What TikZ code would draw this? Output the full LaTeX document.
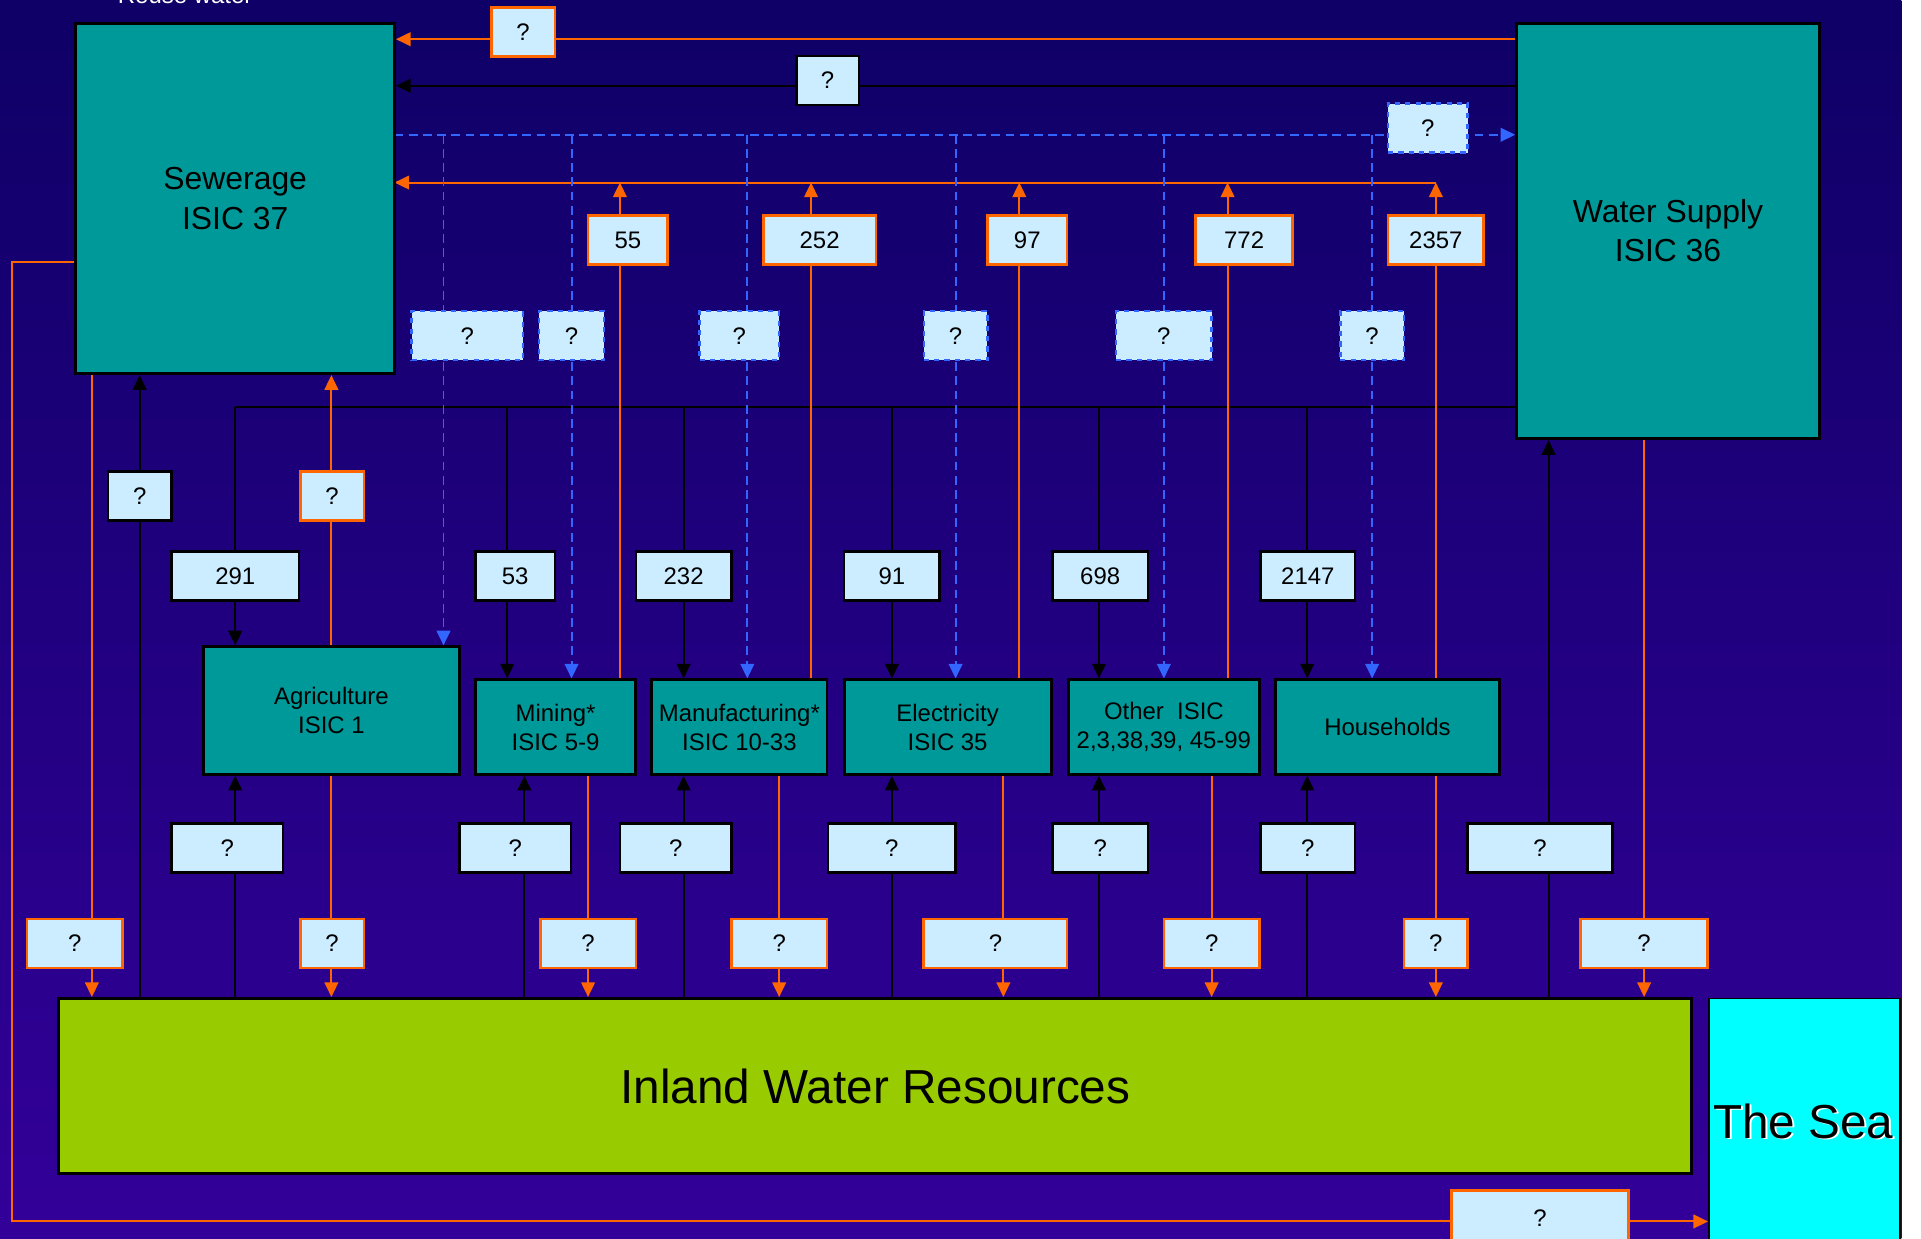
\documentclass[tikz,border=0pt]{standalone}
\usepackage{fontspec}
\setmainfont{Liberation Sans}
\usepackage{xcolor}
\usetikzlibrary{arrows.meta, backgrounds}
\definecolor{tealbox}{RGB}{0,153,153}
\definecolor{inlandgreen}{RGB}{153,204,0}
\definecolor{seacyan}{RGB}{0,255,255}
\definecolor{flow}{RGB}{255,102,0}
\definecolor{reuseblue}{RGB}{51,102,255}
\definecolor{lightq}{RGB}{204,236,255}
\definecolor{bgtop}{RGB}{14,0,102}
\definecolor{bgbottom}{RGB}{51,0,153}
\newcommand{\qfont}{\fontsize{13.9}{16.7}\selectfont}
\newcommand{\sectfont}{\fontsize{13.9}{17}\selectfont}
\newcommand{\bigboxfont}{\fontsize{18.5}{22.8}\selectfont}
\newcommand{\resfont}{\fontsize{27.7}{33}\selectfont}

\begin{document}
\begin{tikzpicture}[
    x=0.25mm, y=-0.25mm,
    >={Triangle[length=3mm, width=2.8mm]},
    every node/.style={font=\qfont, inner sep=0pt},
    bigbox/.style={draw=black, line width=0.6mm, fill=tealbox, align=center, font=\bigboxfont},
    sector/.style={draw=black, line width=0.6mm, fill=tealbox, align=center, minimum height=19.25mm, font=\sectfont},
    qblack/.style={draw=black, line width=0.5mm, fill=lightq, minimum height=10mm},
    qorange/.style={draw=flow, line width=0.55mm, fill=lightq, minimum height=10mm},
    qblue/.style={draw=reuseblue, dashed, line width=0.5mm, fill=lightq, minimum height=10mm},
    abstr/.style={black, line width=0.4mm},
    dischg/.style={flow, line width=0.4mm},
    reusel/.style={reuseblue, line width=0.4mm, dash pattern=on 1.8mm off 1.1mm},
]
\useasboundingbox (0,0) rectangle (1568,1011);
% backdrop
\begin{scope}[on background layer]
\fill[white] (0,0) rectangle (1568,1011);
\shade[top color=bgtop, bottom color=bgbottom] (0,0) rectangle (1552,1011);
\end{scope}
\node[text=white, anchor=base west] (reusetxt) at (96,3) {Reuse water};

% sewerage, water supply, inland water and the sea
\node[bigbox, minimum width=65mm, minimum height=71.5mm] (sew) at (192,162) {Sewerage\\ISIC 37};
\node[bigbox, minimum width=61.75mm, minimum height=84.75mm] (ws) at (1361.5,188.5) {Water Supply\\ISIC 36};
\node[draw=black, line width=0.6mm, fill=inlandgreen, minimum width=333.25mm, minimum height=35.75mm, font=\resfont] (inland) at (714.5,886.5) {Inland Water Resources};
\node[draw=black, line width=0.4mm, fill=seacyan, minimum width=39mm, minimum height=51.25mm] (sea) at (1473,917.5) {};
\node[font=\resfont, text=white] (seashade) at (1473.6,916.4) {The Sea};
\node[font=\resfont] (seatxt) at (1472,915) {The Sea};

% the using industries
\node[sector, minimum width=52.25mm, minimum height=26mm] (agri) at (270.5,580) {Agriculture\\ISIC 1};
\node[sector, minimum width=32.75mm] (mine) at (453.5,593.5) {Mining*\\ISIC 5-9};
\node[sector, minimum width=35.75mm] (manu) at (603.5,593.5) {Manufacturing*\\ISIC 10-33};
\node[sector, minimum width=42.25mm] (elec) at (773.5,593.5) {Electricity\\ISIC 35};
\node[sector, minimum width=39mm] (other) at (950,593.5) {Other\ \ ISIC\\2,3,38,39, 45-99};
\node[sector, minimum width=45.75mm] (hh) at (1132.5,593.5) {Households};

% flows between the sewerage and the water supply
\node[qorange, minimum width=13mm] (qtop) at (427,26) {?};
\node[qblack, minimum width=12.75mm] (qmid) at (675.5,65.5) {?};
\node[qblue, minimum width=16.25mm] (qreuse) at (1165.5,104.5) {?};

% returns to the sewerage
\node[qorange, minimum width=16.25mm] (r55) at (512.5,196) {55};
\node[qorange, minimum width=23mm] (r252) at (669,196) {252};
\node[qorange, minimum width=16.25mm] (r97) at (838.5,196) {97};
\node[qorange, minimum width=19.75mm] (r772) at (1015.5,196) {772};
\node[qorange, minimum width=19.5mm] (r2357) at (1172,196) {2357};

% reused water
\node[qblue, minimum width=22.75mm] (uagri) at (381.5,274) {?};
\node[qblue, minimum width=13.25mm] (umine) at (466.5,274) {?};
\node[qblue, minimum width=16.25mm] (umanu) at (603.5,274) {?};
\node[qblue, minimum width=13mm] (uelec) at (780,274) {?};
\node[qblue, minimum width=19.5mm] (uother) at (950,274) {?};
\node[qblue, minimum width=13mm] (uhh) at (1120,274) {?};

% into and out of the sewerage
\node[qblack, minimum width=13mm] (asew) at (114,405) {?};
\node[qorange, minimum width=13mm] (ragri) at (271,405) {?};

% supplied water
\node[qblack, minimum width=26mm] (s291) at (192,470) {291};
\node[qblack, minimum width=16.25mm] (s53) at (420.5,470) {53};
\node[qblack, minimum width=19.5mm] (s232) at (558,470) {232};
\node[qblack, minimum width=19.5mm] (s91) at (728,470) {91};
\node[qblack, minimum width=19.5mm] (s698) at (898,470) {698};
\node[qblack, minimum width=19.25mm] (s2147) at (1067.5,470) {2147};

% abstraction from inland water
\node[qblack, minimum width=22.75mm] (aagri) at (185.5,692) {?};
\node[qblack, minimum width=22.75mm] (amine) at (420.5,692) {?};
\node[qblack, minimum width=22.75mm] (amanu) at (551.5,692) {?};
\node[qblack, minimum width=26mm] (aelec) at (728,692) {?};
\node[qblack, minimum width=19.5mm] (aother) at (898,692) {?};
\node[qblack, minimum width=19.25mm] (ahh) at (1067.5,692) {?};
\node[qblack, minimum width=29.5mm] (aws) at (1257,692) {?};

% discharge to inland water and the sea
\node[qorange, minimum width=19.5mm] (dsew) at (61,770) {?};
\node[qorange, minimum width=13mm] (dagri) at (271,770) {?};
\node[qorange, minimum width=19.5mm] (dmine) at (480,770) {?};
\node[qorange, minimum width=19.5mm] (dmanu) at (636,770) {?};
\node[qorange, minimum width=29.25mm] (delec) at (812.5,770) {?};
\node[qorange, minimum width=19.5mm] (dother) at (989,770) {?};
\node[qorange, minimum width=13mm] (dhh) at (1172,770) {?};
\node[qorange, minimum width=26mm] (dws) at (1342,770) {?};
\node[qorange, minimum width=36mm, minimum height=11mm] (dsea) at (1257,994) {?};

\begin{scope}[on background layer]
\coordinate (dist) at (192,332);
\coordinate (reu) at (322,110);
\coordinate (ret) at (322,149);
% top lines
\draw[dischg, ->] (ws.west |- 0,32) -- (sew.east |- 0,32);
\draw[abstr, ->] (ws.west |- 0,70) -- (sew.east |- 0,70);
\draw[reusel, ->] (reu) -- (ws.west |- reu);
\draw[dischg, ->] (r2357 |- ret) -- (ret);
\draw[abstr] (ws.west |- dist) -- (dist);
% sewerage
\draw[abstr, ->] (inland.north -| asew) -- (asew |- sew.south);
\draw[dischg, ->] (sew.south -| 75,0) -- (inland.north -| 75,0);
\draw[dischg, ->] (sew.west |- 0,214) -| (10,997) -- (sea.west |- 0,997);
% water supply
\draw[abstr, ->] (inland.north -| 1264,0) -- (ws.south -| 1264,0);
\draw[dischg, ->] (ws.south -| dws) -- (dws |- inland.north);
% agriculture
\draw[abstr, ->] (dist) -- (agri.north -| dist);
\draw[reusel, ->] (reu -| 362,0) -- (agri.north -| 362,0);
\draw[dischg, ->] (agri.north) -- (agri.north |- sew.south);
\draw[abstr, ->] (inland.north -| dist) -- (agri.south -| dist);
\draw[dischg, ->] (agri.south) -- (agri.south |- inland.north);
% mining
\draw[abstr, ->] (dist -| 414,0) -- (mine.north -| 414,0);
\draw[reusel, ->] (reu -| umine) -- (umine |- mine.north);
\draw[dischg, ->] (mine.north -| 506,0) -- (ret -| 506,0);
\draw[abstr, ->] (inland.north -| 428,0) -- (mine.south -| 428,0);
\draw[dischg, ->] (mine.south -| dmine) -- (dmine |- inland.north);
% manufacturing
\draw[abstr, ->] (dist -| s232) -- (s232 |- manu.north);
\draw[reusel, ->] (reu -| 610,0) -- (manu.north -| 610,0);
\draw[dischg, ->] (manu.north -| 662,0) -- (ret -| 662,0);
\draw[abstr, ->] (inland.north -| s232) -- (s232 |- manu.south);
\draw[dischg, ->] (manu.south -| dmanu) -- (dmanu |- inland.north);
% electricity
\draw[abstr, ->] (dist -| s91) -- (s91 |- elec.north);
\draw[reusel, ->] (reu -| uelec) -- (uelec |- elec.north);
\draw[dischg, ->] (elec.north -| 832,0) -- (ret -| 832,0);
\draw[abstr, ->] (inland.north -| s91) -- (s91 |- elec.south);
\draw[dischg, ->] (elec.south -| 819,0) -- (inland.north -| 819,0);
% other industries
\draw[abstr, ->] (dist -| 897,0) -- (other.north -| 897,0);
\draw[reusel, ->] (reu -| uother) -- (uother |- other.north);
\draw[dischg, ->] (other.north -| 1002,0) -- (ret -| 1002,0);
\draw[abstr, ->] (inland.north -| 897,0) -- (other.south -| 897,0);
\draw[dischg, ->] (other.south -| dother) -- (dother |- inland.north);
% households
\draw[abstr, ->] (dist -| 1067,0) -- (hh.north -| 1067,0);
\draw[reusel, ->] (reu -| uhh) -- (uhh |- hh.north);
\draw[dischg] (hh.north -| r2357) -- (r2357);
\draw[dischg, ->] (r2357) -- (r2357 |- ret);
\draw[abstr, ->] (inland.north -| 1067,0) -- (hh.south -| 1067,0);
\draw[dischg, ->] (hh.south -| dhh) -- (dhh |- inland.north);
\end{scope}
\end{tikzpicture}
\end{document}
